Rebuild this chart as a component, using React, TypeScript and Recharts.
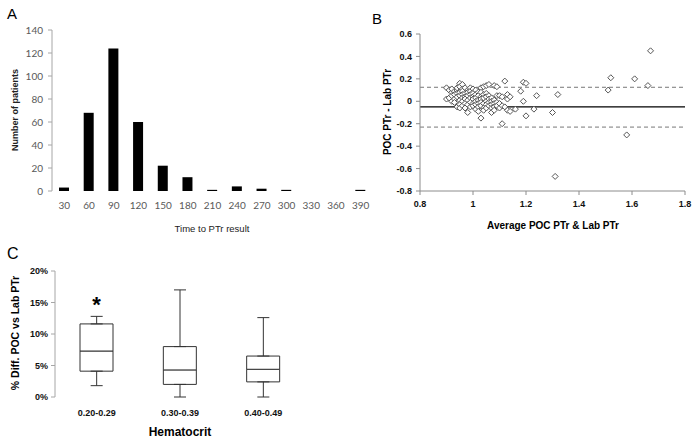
import React from 'react';
import {
  BarChart,
  Bar,
  XAxis,
  YAxis,
  ScatterChart,
  Scatter,
  ReferenceLine,
  ComposedChart,
  Line,
  ErrorBar,
  LabelList,
} from 'recharts';

// ---------- Panel A: time to PTr result histogram ----------
const timeCategories = ['30', '60', '90', '120', '150', '180', '210', '240', '270', '300', '330', '360', '390'];
const patientCounts = [3, 68, 124, 60, 22, 12, 1, 4, 2, 1, 0, 0, 1];
const countTicks = [0, 20, 40, 60, 80, 100, 120, 140];
const binEdges = [15, 45, 75, 105, 135, 165, 195, 225, 255, 285, 315, 345, 375, 405];

// ---------- Panel B: Bland-Altman ----------
const avgTicks = [0.8, 1, 1.2, 1.4, 1.6, 1.8];
const diffTicks = [-0.8, -0.6, -0.4, -0.2, 0, 0.2, 0.4, 0.6];
const meanDiff = -0.05;
const upperLimit = 0.125;
const lowerLimit = -0.23;
const blandAltmanPoints: [number, number][] = [
  [0.90, 0.12], [0.90, 0.02], [0.91, 0.10], [0.91, 0.03], [0.92, 0.08], [0.92, 0.11], [0.92, 0.0], [0.92, 0.05],
  [0.93, 0.09], [0.93, 0.06], [0.93, 0.02], [0.93, -0.01], [0.94, 0.10], [0.94, 0.07], [0.94, 0.04], [0.94, -0.05],
  [0.94, 0.12], [0.95, 0.16], [0.95, 0.13], [0.95, 0.08], [0.95, 0.05], [0.95, 0.01], [0.95, -0.03], [0.95, -0.06],
  [0.96, 0.15], [0.96, 0.11], [0.96, 0.09], [0.96, 0.06], [0.96, 0.03], [0.96, 0.0], [0.96, -0.04], [0.97, 0.12],
  [0.97, 0.07], [0.97, 0.04], [0.97, 0.02], [0.97, -0.02], [0.97, -0.06], [0.98, 0.10], [0.98, 0.08], [0.98, 0.05],
  [0.98, 0.01], [0.98, -0.03], [0.98, -0.10], [0.99, 0.12], [0.99, 0.09], [0.99, 0.06], [0.99, 0.03], [0.99, -0.01],
  [0.99, -0.05], [1.00, 0.11], [1.00, 0.07], [1.00, 0.04], [1.00, 0.02], [1.00, -0.02], [1.00, -0.04], [1.01, 0.10],
  [1.01, 0.06], [1.01, 0.03], [1.01, 0.0], [1.01, -0.03], [1.01, -0.07], [1.02, 0.08], [1.02, 0.05], [1.02, 0.01],
  [1.02, -0.02], [1.02, -0.05], [1.02, -0.09], [1.03, 0.12], [1.03, 0.08], [1.03, 0.04], [1.03, 0.02], [1.03, -0.01],
  [1.03, -0.04], [1.03, -0.15], [1.04, 0.13], [1.04, 0.06], [1.04, 0.03], [1.04, -0.02], [1.04, -0.06], [1.04, -0.08],
  [1.05, 0.14], [1.05, 0.07], [1.05, 0.04], [1.05, 0.0], [1.05, -0.03], [1.05, -0.06], [1.06, 0.15], [1.06, 0.05],
  [1.06, 0.02], [1.06, -0.01], [1.06, -0.04], [1.07, 0.03], [1.07, 0.0], [1.07, -0.03], [1.07, -0.06], [1.07, -0.10],
  [1.08, 0.14], [1.08, 0.01], [1.08, -0.02], [1.08, -0.05], [1.08, -0.08], [1.09, 0.13], [1.09, 0.05], [1.09, -0.01],
  [1.09, -0.04], [1.10, 0.05], [1.10, -0.02], [1.10, -0.06], [1.11, 0.04], [1.11, -0.04], [1.11, -0.20], [1.12, 0.18],
  [1.12, -0.05], [1.13, 0.02], [1.13, 0.06], [1.13, -0.08], [1.14, 0.04], [1.14, -0.09],
  [1.16, -0.07], [1.18, 0.09], [1.19, 0.17], [1.20, 0.16], [1.19, 0.0], [1.20, -0.13], [1.23, -0.07], [1.24, 0.05],
  [1.30, -0.10], [1.31, -0.67], [1.32, 0.06], [1.51, 0.10], [1.52, 0.21], [1.58, -0.30], [1.61, 0.20], [1.66, 0.14],
  [1.67, 0.45],
];

// ---------- Panel C: box plots by hematocrit ----------
const hctGroups = ['0.20-0.29', '0.30-0.39', '0.40-0.49'];
const hctMin = [1.8, 0, 0];
const hctQ1 = [4.1, 2.0, 2.4];
const hctMedian = [7.3, 4.3, 4.4];
const hctQ3 = [11.6, 8.0, 6.5];
const hctMax = [12.8, 17.0, 12.6];
const hctSignificance = ['*', '', ''];
const pctTicks = [0, 5, 10, 15, 20];
const groupEdges = [0, 1, 2, 3];

const histData = timeCategories.map((t, i) => ({ time: t, count: patientCounts[i] }));
const scatterData = blandAltmanPoints.map(([x, y]) => ({ x, y }));
const boxData = hctGroups.map((g, i) => ({
  group: g,
  q1: hctQ1[i],
  q3: hctQ3[i],
  lowerBox: hctMedian[i] - hctQ1[i],
  upperBox: hctQ3[i] - hctMedian[i],
  lowerErr: [hctQ1[i] - hctMin[i], 0],
  upperErr: [0, hctMax[i] - hctQ3[i]],
  mark: hctSignificance[i],
}));

const fmt1 = (v: number) => String(Number(v.toFixed(1)));

const Diamond = (props: any) => {
  const { cx, cy } = props;
  if (cx == null || cy == null) return null;
  const r = 3;
  return (
    <polygon
      points={`${cx},${cy - r} ${cx + r},${cy} ${cx},${cy + r} ${cx - r},${cy}`}
      fill="#fff"
      stroke="#555"
      strokeWidth={1}
    />
  );
};

const tickA = { fontFamily: 'Lato, "Open Sans", sans-serif', fontSize: 10, fill: '#595959' };
const tickBold = { fontFamily: '"Liberation Sans", Arial, sans-serif', fontSize: 9, fontWeight: 700, fill: '#111' };

export default function App() {
  return (
    <div style={{ position: 'absolute', left: 0, top: 0, width: 695, height: 441, background: '#fff', overflow: 'hidden' }}>
      {/* Panel A */}
      <div style={{ position: 'absolute', left: 0, top: 0 }}>
        <BarChart width={380} height={240} data={histData} margin={{ top: 30, right: 7, bottom: 0, left: 0 }}>
          <XAxis
            xAxisId="edges"
            type="number"
            domain={[15, 405]}
            ticks={binEdges}
            allowDataOverflow
            tick={false}
            height={0}
            tickSize={4}
            stroke="#a6a6a6"
          />
          <XAxis
            xAxisId="cat"
            dataKey="time"
            type="category"
            interval={0}
            axisLine={false}
            tickLine={false}
            height={49}
            tickMargin={5}
            tick={tickA}
          />
          <YAxis
            domain={[0, 140]}
            ticks={countTicks}
            width={52}
            tickSize={4}
            tickMargin={5}
            stroke="#a6a6a6"
            tick={tickA}
            interval={0}
          />
          <Bar xAxisId="cat" dataKey="count" fill="#000" barSize={10} isAnimationActive={false} />
        </BarChart>
      </div>

      {/* Panel B */}
      <div style={{ position: 'absolute', left: 340, top: 0 }}>
        <ScatterChart width={355} height={240} margin={{ top: 34, right: 10, bottom: 0, left: 0 }}>
          <XAxis
            type="number"
            dataKey="x"
            domain={[0.8, 1.8]}
            ticks={avgTicks}
            allowDataOverflow
            height={49}
            tickSize={4}
            tickMargin={6}
            stroke="#8c8c8c"
            tick={tickBold}
            tickFormatter={fmt1}
            interval={0}
          />
          <YAxis
            type="number"
            dataKey="y"
            domain={[-0.8, 0.6]}
            ticks={diffTicks}
            allowDataOverflow
            width={80}
            tickSize={4}
            tickMargin={4}
            stroke="#8c8c8c"
            tick={tickBold}
            tickFormatter={fmt1}
            interval={0}
          />
          <ReferenceLine y={upperLimit} stroke="#777" strokeDasharray="4 3" strokeWidth={1} />
          <ReferenceLine y={lowerLimit} stroke="#777" strokeDasharray="4 3" strokeWidth={1} />
          <ReferenceLine y={meanDiff} stroke="#000" strokeWidth={1.3} />
          <Scatter data={scatterData} shape={Diamond} isAnimationActive={false} />
        </ScatterChart>
      </div>

      {/* Panel C */}
      <div style={{ position: 'absolute', left: 0, top: 220 }}>
        <ComposedChart width={320} height={221} data={boxData} margin={{ top: 51, right: 15, bottom: 0, left: 0 }}>
          <XAxis
            xAxisId="edges"
            type="number"
            domain={[0, 3]}
            ticks={groupEdges}
            allowDataOverflow
            tick={false}
            height={0}
            tickSize={4}
            stroke="#a6a6a6"
          />
          <XAxis
            xAxisId="cat"
            dataKey="group"
            type="category"
            axisLine={false}
            tickLine={false}
            height={44}
            tickMargin={7}
            tick={tickBold}
            interval={0}
          />
          <YAxis
            domain={[0, 20]}
            ticks={pctTicks}
            width={55}
            tickSize={4}
            tickMargin={3}
            stroke="#a6a6a6"
            tick={tickBold}
            tickFormatter={(v: number) => `${v}%`}
            interval={0}
          />
          <Line xAxisId="cat" dataKey="q1" stroke="none" dot={false} activeDot={false} isAnimationActive={false}>
            <ErrorBar dataKey="lowerErr" direction="y" width={6} stroke="#333" strokeWidth={1} />
          </Line>
          <Line xAxisId="cat" dataKey="q3" stroke="none" dot={false} activeDot={false} isAnimationActive={false}>
            <ErrorBar dataKey="upperErr" direction="y" width={6} stroke="#333" strokeWidth={1} />
          </Line>
          <Bar xAxisId="cat" dataKey="q1" stackId="box" fill="none" barSize={33} isAnimationActive={false} />
          <Bar xAxisId="cat" dataKey="lowerBox" stackId="box" fill="#fff" stroke="#333" strokeWidth={1} barSize={33} isAnimationActive={false} />
          <Bar xAxisId="cat" dataKey="upperBox" stackId="box" fill="#fff" stroke="#333" strokeWidth={1} barSize={33} isAnimationActive={false}>
            <LabelList
              dataKey="mark"
              position="top"
              offset={12}
              style={{ fontFamily: '"Liberation Sans", Arial, sans-serif', fontSize: 22, fontWeight: 700, fill: '#000' }}
            />
          </Bar>
        </ComposedChart>
      </div>

      {/* Titles */}
      <svg width={695} height={441} style={{ position: 'absolute', left: 0, top: 0, pointerEvents: 'none' }}>
        <g fontFamily='"Liberation Sans", Arial, sans-serif'>
          <text x={7} y={19} fontSize={15} fill="#000">A</text>
          <text x={372} y={24} fontSize={15} fill="#000">B</text>
          <text x={7} y={259} fontSize={16} fill="#000">C</text>

          <text x={15} y={110} transform="rotate(-90 15 110)" textAnchor="middle" dominantBaseline="central" fontSize={9} fontWeight={700} fill="#222">
            Number of patients
          </text>
          <text x={212} y={228} textAnchor="middle" dominantBaseline="central" fontSize={9.5} fill="#222">
            Time to PTr result
          </text>

          <text x={387} y={112} transform="rotate(-90 387 112)" textAnchor="middle" dominantBaseline="central" fontSize={10} fontWeight={700} fill="#000">
            POC PTr - Lab PTr
          </text>
          <text x={553} y={225} textAnchor="middle" dominantBaseline="central" fontSize={10} fontWeight={700} fill="#000">
            Average POC PTr &amp; Lab PTr
          </text>

          <text x={15} y={333} transform="rotate(-90 15 333)" textAnchor="middle" dominantBaseline="central" fontSize={10.5} fontWeight={700} fill="#000">
            % Diff. POC vs Lab PTr
          </text>
          <text x={180} y={432} textAnchor="middle" dominantBaseline="central" fontSize={12} fontWeight={700} fill="#000">
            Hematocrit
          </text>
        </g>
      </svg>
    </div>
  );
}
